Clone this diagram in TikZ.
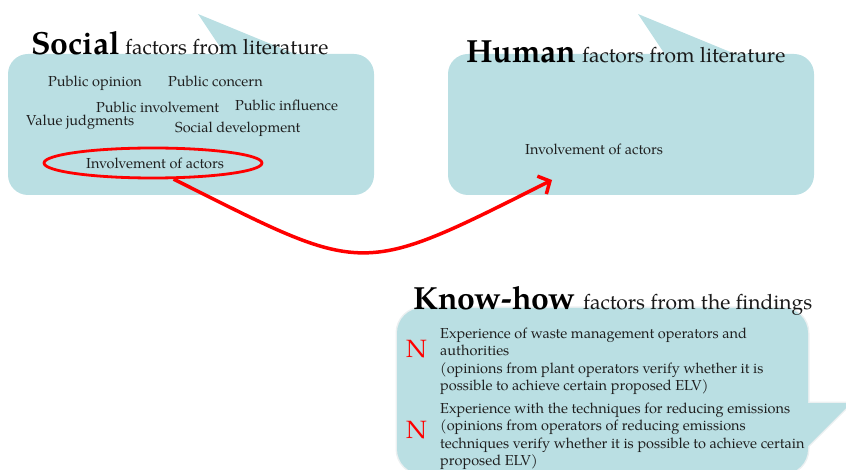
\documentclass[tikz,border=0pt]{standalone}
\usepackage{fontspec}
\setmainfont{texgyrepagella}[Extension=.otf, UprightFont=*-regular, BoldFont=*-bold, ItalicFont=*-italic, BoldItalicFont=*-bolditalic]
\usetikzlibrary{shapes.geometric, arrows.meta}
\definecolor{callout}{RGB}{186,223,227}
\definecolor{rim}{RGB}{236,240,241}
\begin{document}
\begin{tikzpicture}[x=1pt,y=-1pt,
  item/.style={anchor=base west, inner sep=0pt, font=\fontsize{14.5}{16}\selectfont, text=black!88},
  bigword/.style={anchor=base west, inner sep=0pt, font=\fontsize{32}{36}\selectfont\bfseries, text=black},
  subword/.style={anchor=base west, inner sep=0pt, font=\fontsize{21}{25}\selectfont, text=black!90},
  nmark/.style={anchor=base west, inner sep=0pt, font=\fontsize{25}{25}\selectfont, text=red},
  bubble/.style={fill=callout, rounded corners=20pt},
  tail/.style={fill=callout},
  redline/.style={draw=red, line width=3.5pt}
]
\useasboundingbox (0,0) rectangle (846,470);
\clip (0,0) rectangle (846,470);

% ---------- Social callout ----------
\fill[tail] (198,14) -- (300,56) -- (226,56) -- cycle;
\fill[bubble] (8,54) rectangle (374,195);
\node[bigword] (soc) at (31,55) {Social};
\node[subword] (soct) at (125,55) {factors from literature};

\node[item] (s1) at (48,87) {Public opinion};
\node[item] (s2) at (168,87) {Public concern};
\node[item] (s3) at (96,113) {Public involvement};
\node[item] (s4) at (235,111) {Public influence};
\node[item] (s5) at (26,126) {Value judgments};
\node[item] (s6) at (175,133) {Social development};
\node[item] (s7) at (86,169) {Involvement of actors};
\node[ellipse, draw=red, line width=2.8pt, minimum width=218pt, minimum height=30pt, inner sep=0pt] (ell) at (153,163) {};

% ---------- Human callout ----------
\fill[tail] (638,14) -- (740,56) -- (666,56) -- cycle;
\fill[bubble] (448,54) rectangle (814,195);
\node[bigword] (hum) at (466,63) {Human};
\node[subword] (humt) at (582,63) {factors from literature};
\node[item] (h1) at (525,155) {Involvement of actors};

% ---------- Arrow ----------
\coordinate (tip) at (552,180);
\draw[redline, -{Straight Barb[length=9pt,width=20pt]}] (ell.-38) .. controls (367,276) and (357,278) .. (tip);

% ---------- Know-how callout ----------
\draw[rim, line width=3pt, rounded corners=25pt] (397,308) rectangle (808,474);
\draw[rim, line width=3pt, line join=round] (806,403) -- (851,403) -- (806,448) -- cycle;
\fill[tail] (806,403) -- (851,403) -- (806,448) -- cycle;
\fill[callout, rounded corners=25pt] (397,308) rectangle (808,474);
\node[bigword] (kh) at (413,310) {Know-how};
\node[subword] (kht) at (583,310) {factors from the findings};

\node[nmark] (n1) at (406,357) {N};
\node[nmark] (n2) at (406,438) {N};

\node[item] (k1) at (440,338) {Experience of waste management operators and};
\node[item] (k2) at (440,355.5) {authorities};
\node[item] (k3) at (440,373) {(opinions from plant operators verify whether it is};
\node[item] (k4) at (440,390.5) {possible to achieve certain proposed ELV)};
\node[item] (k5) at (440,413) {Experience with the techniques for reducing emissions};
\node[item] (k6) at (440,430.5) {(opinions from operators of reducing emissions};
\node[item] (k7) at (440,448) {techniques verify whether it is possible to achieve certain};
\node[item] (k8) at (440,465.5) {proposed ELV)};
\end{tikzpicture}
\end{document}
